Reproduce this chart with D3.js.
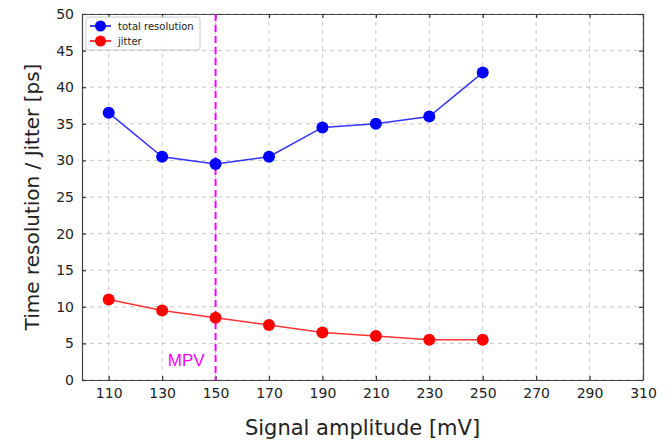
<!DOCTYPE html>
<html><head><meta charset="utf-8">
<script src="https://cdn.jsdelivr.net/npm/d3@7"></script>
<style>body{margin:0;background:#fff;} svg{display:block;font-family:"DejaVu Sans",sans-serif;}</style>
</head><body>
<svg id="c" width="672" height="441"></svg>
<script>
const amplitudes = [110,130,150,170,190,210,230,250];
const totalResolution = [36.5,30.5,29.5,30.5,34.5,35,36,42];
const jitter = [11,9.5,8.5,7.5,6.5,6,5.5,5.5];
const xTicks = [110,130,150,170,190,210,230,250,270,290,310];
const yTicks = [0,5,10,15,20,25,30,35,40,45,50];
const mpv = 150;
const seriesNames = ["total resolution","jitter"];
const seriesColors = ["#0000ff","#ff0000"];

const svg = d3.select("#c");
const L=82,R=643,T=14,B=380;
const x = d3.scaleLinear().domain([100,310]).range([L,R]);
const y = d3.scaleLinear().domain([0,50]).range([B,T]);

// grid
const g = svg.append("g");
g.selectAll(".gx").data(xTicks).enter().append("line")
 .attr("x1",d=>x(d)).attr("x2",d=>x(d)).attr("y1",T).attr("y2",B)
 .attr("stroke","#c8c8c8").attr("stroke-width",1).attr("stroke-dasharray","4,4");
g.selectAll(".gy").data(yTicks).enter().append("line")
 .attr("y1",d=>y(d)).attr("y2",d=>y(d)).attr("x1",L).attr("x2",R)
 .attr("stroke","#c8c8c8").attr("stroke-width",1).attr("stroke-dasharray","4,4");

// axes
const ax = svg.append("g").attr("transform",`translate(0,${B})`)
 .call(d3.axisBottom(x).tickValues(xTicks).tickSizeInner(-4).tickSizeOuter(0).tickPadding(8));
const ay = svg.append("g").attr("transform",`translate(${L},0)`)
 .call(d3.axisLeft(y).tickValues(yTicks).tickSizeInner(-4).tickSizeOuter(0).tickPadding(8));
const axT = svg.append("g").attr("transform",`translate(0,${T})`)
 .call(d3.axisTop(x).tickValues(xTicks).tickSizeInner(-4).tickSizeOuter(0).tickFormat(""));
const ayR = svg.append("g").attr("transform",`translate(${R},0)`)
 .call(d3.axisRight(y).tickValues(yTicks).tickSizeInner(-4).tickSizeOuter(0).tickFormat(""));
[ax,ay,axT,ayR].forEach(a=>{
  a.select(".domain").attr("stroke","#444").attr("stroke-width",1.2);
  a.selectAll(".tick line").attr("stroke","#333").attr("stroke-width",1.2);
  a.selectAll(".tick text").attr("fill","#222").style("font-size","14px").style("font-family","DejaVu Sans");
});

// MPV line
svg.append("line").attr("x1",x(mpv)).attr("x2",x(mpv)).attr("y1",T).attr("y2",B)
 .attr("stroke","#ff00ff").attr("stroke-width",2).attr("stroke-dasharray","7,4");
svg.append("text").attr("x",x(mpv)-11).attr("y",366).attr("text-anchor","end")
 .attr("fill","#ff00ff").style("font-family","Liberation Sans").style("font-size","17px").text("MPV");

// series
const data=[totalResolution,jitter];
data.forEach((vals,i)=>{
  const pts = amplitudes.map((a,j)=>[a,vals[j]]);
  svg.append("path").datum(pts).attr("fill","none").attr("stroke",seriesColors[i]).attr("stroke-width",1.5).attr("opacity",0.8)
   .attr("d",d3.line().x(d=>x(d[0])).y(d=>y(d[1])));
  svg.selectAll(null).data(pts).enter().append("circle")
   .attr("cx",d=>x(d[0])).attr("cy",d=>y(d[1])).attr("r",6).attr("fill",seriesColors[i]);
});

// legend
const lg = svg.append("g");
lg.append("rect").attr("x",86).attr("y",17).attr("width",114).attr("height",33).attr("rx",2)
 .attr("fill","#fff").attr("fill-opacity",0.85).attr("stroke","#ccc");
seriesNames.forEach((n,i)=>{
  const yy=26+i*15;
  lg.append("line").attr("x1",90).attr("x2",111).attr("y1",yy).attr("y2",yy).attr("stroke",seriesColors[i]).attr("stroke-width",1.5);
  lg.append("circle").attr("cx",100.5).attr("cy",yy).attr("r",5.5).attr("fill",seriesColors[i]);
  lg.append("text").attr("x",118).attr("y",yy+3.5).attr("fill","#222").style("font-size","10px").text(n);
});

// axis labels
svg.append("text").attr("x",362.5).attr("y",435).attr("text-anchor","middle")
 .attr("fill","#222").style("font-size","21px").text("Signal amplitude [mV]");
svg.append("text").attr("transform",`translate(39,197) rotate(-90)`).attr("text-anchor","middle")
 .attr("fill","#222").style("font-size","20px").text("Time resolution / Jitter [ps]");
</script>
</body></html>
